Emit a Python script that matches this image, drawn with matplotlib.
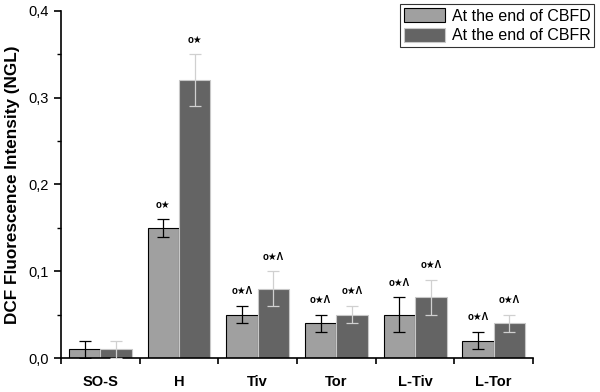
import matplotlib
matplotlib.use("Agg")
import matplotlib.pyplot as plt
import numpy as np
from matplotlib.ticker import FixedLocator, MultipleLocator, FuncFormatter

plt.rcParams['font.family'] = ['Liberation Sans', 'DejaVu Sans']

categories = ["SO-S", "H", "Tiv", "Tor", "L-Tiv", "L-Tor"]
cbfd = [0.01, 0.15, 0.05, 0.04, 0.05, 0.02]
cbfd_err = [0.01, 0.01, 0.01, 0.01, 0.02, 0.01]
cbfr = [0.01, 0.32, 0.08, 0.05, 0.07, 0.04]
cbfr_err = [0.01, 0.03, 0.02, 0.01, 0.02, 0.01]
cbfd_marks = ["", "o★", "o★Λ", "o★Λ", "o★Λ", "o★Λ"]
cbfr_marks = ["", "o★", "o★Λ", "o★Λ", "o★Λ", "o★Λ"]

fig = plt.figure(figsize=(6, 3.92), dpi=100)
ax = fig.add_axes([0.1017, 0.0867, 0.7867, 0.8853])

x = np.arange(len(categories))
w = 0.4
light = "#a0a0a0"
dark = "#646464"

ax.bar(x - w/2, cbfd, w, color=light, edgecolor="black", linewidth=0.8,
       label="At the end of CBFD", zorder=2)
ax.bar(x + w/2, cbfr, w, color=dark, edgecolor="#c8c8c8", linewidth=0.8,
       label="At the end of CBFR", zorder=2)
ax.errorbar(x - w/2, cbfd, yerr=cbfd_err, fmt="none", ecolor="black",
            elinewidth=0.9, capsize=4, capthick=0.9, zorder=3)
ax.errorbar(x + w/2, cbfr, yerr=cbfr_err, fmt="none", ecolor="#d0d0d0",
            elinewidth=0.9, capsize=4, capthick=0.9, zorder=3)

for i in range(len(categories)):
    if cbfd_marks[i]:
        ax.text(x[i] - w/2, cbfd[i] + cbfd_err[i] + 0.011, cbfd_marks[i],
                ha="center", va="bottom", fontsize=7, fontweight="bold")
    if cbfr_marks[i]:
        ax.text(x[i] + w/2, cbfr[i] + cbfr_err[i] + 0.011, cbfr_marks[i],
                ha="center", va="bottom", fontsize=7, fontweight="bold")

ax.set_xlim(-0.5, len(categories) - 0.5)
ax.set_ylim(0, 0.4)
ax.spines['top'].set_visible(False)
ax.spines['right'].set_visible(False)
ax.spines['left'].set_linewidth(1.2)
ax.spines['bottom'].set_linewidth(1.2)

ax.xaxis.set_major_locator(FixedLocator(np.arange(-0.5, len(categories), 1.0)))
ax.xaxis.set_major_formatter(FuncFormatter(lambda v, p: ""))
ax.xaxis.set_minor_locator(FixedLocator(x))
ax.set_xticklabels(categories, minor=True, fontweight="bold", fontsize=10.5)
ax.tick_params(axis='x', which='minor', length=0, pad=12)
ax.tick_params(axis='x', which='major', length=4, width=1.2, direction='out')

ax.yaxis.set_major_locator(MultipleLocator(0.1))
ax.yaxis.set_minor_locator(MultipleLocator(0.05))
ax.yaxis.set_major_formatter(FuncFormatter(lambda v, p: f"{v:.1f}".replace(".", ",")))
ax.tick_params(axis='y', which='major', length=5, width=1.2, labelsize=10.5)
ax.tick_params(axis='y', which='minor', length=3, width=1.0)
ax.set_ylabel("DCF Fluorescence Intensity (NGL)", fontweight="bold", fontsize=12.3,
              labelpad=6)

leg = ax.legend(loc="upper right", bbox_to_anchor=(1.13, 1.02), fontsize=11.5,
                frameon=True, fancybox=False, edgecolor="black",
                handlelength=2.6, handleheight=1.0, borderpad=0.25,
                labelspacing=0.25, handletextpad=0.4, borderaxespad=0)
leg.get_frame().set_linewidth(0.8)

fig.savefig("out.png", dpi=100)
